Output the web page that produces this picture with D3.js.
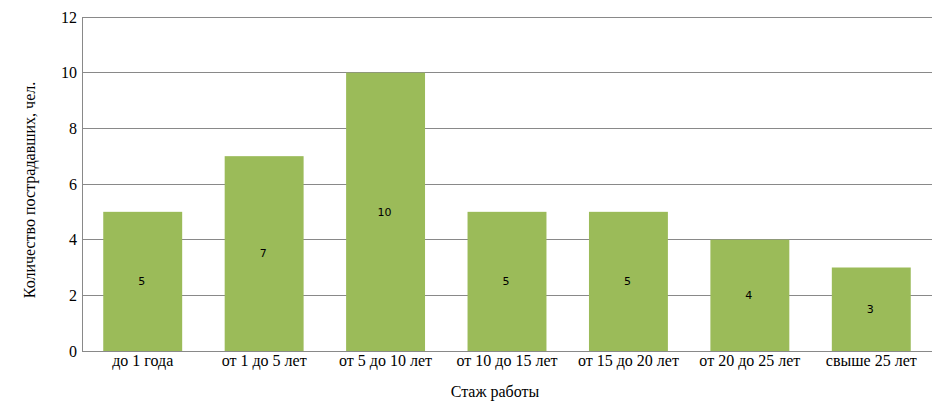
<!DOCTYPE html>
<html><head><meta charset="utf-8">
<script src="https://cdn.jsdelivr.net/npm/d3@7"></script>
<style>body{margin:0;background:#fff}</style>
</head><body>
<svg id="c" width="952" height="420"></svg>
<script>
const categories = ["до 1 года","от 1 до 5 лет","от 5 до 10 лет","от 10 до 15 лет","от 15 до 20 лет","от 20 до 25 лет","свыше 25 лет"];
const values = [5,7,10,5,5,4,3];
const yTicks = [0,2,4,6,8,10,12];

const svg = d3.select("#c");
const m = {l:82, r:932, t:17, b:351};
const x = d3.scaleBand().domain(categories).range([m.l, m.r]).paddingInner(0.35).paddingOuter(0.175);
const y = d3.scaleLinear().domain([0,12]).range([m.b, m.t]);
const serif = "'Liberation Serif','DejaVu Serif',serif";

// grid
svg.append("g").selectAll("line").data(yTicks).join("line")
  .attr("x1", m.l).attr("x2", m.r).attr("y1", d=>y(d)).attr("y2", d=>y(d))
  .attr("stroke", "#898989").attr("stroke-width", 1).attr("shape-rendering","crispEdges");

// bars
svg.append("g").selectAll("rect").data(values).join("rect")
  .attr("x", (d,i)=>x(categories[i])).attr("width", x.bandwidth())
  .attr("y", d=>y(d)).attr("height", d=>y(0)-y(d)).attr("fill", "#9bbb59");

// left axis
const ya = d3.axisLeft(y).tickValues(yTicks).tickSize(0).tickPadding(5);
const gy = svg.append("g").attr("transform", `translate(${m.l},0)`).call(ya);
gy.select(".domain").attr("stroke","#898989").attr("shape-rendering","crispEdges");
gy.selectAll("text").attr("font-family", serif).attr("font-size", 16).attr("fill","#000");

// bottom axis
const xa = d3.axisBottom(x).tickSize(0).tickPadding(4);
const gx = svg.append("g").attr("transform", `translate(0,${m.b})`).call(xa);
gx.select(".domain").remove();
gx.selectAll("text").attr("font-family", serif).attr("font-size", 16).attr("fill","#000");

// value labels
svg.append("g").selectAll("text").data(values).join("text")
  .attr("x", (d,i)=>x(categories[i]) + x.bandwidth()/2 - 1)
  .attr("y", d=>y(d/2)).attr("dy", "0.35em").attr("text-anchor","middle")
  .attr("font-family","'DejaVu Sans',sans-serif").attr("font-size", 11).attr("fill","#000")
  .text(d=>d);

// axis titles
svg.append("text").attr("x", 495).attr("y", 397).attr("text-anchor","middle")
  .attr("font-family", serif).attr("font-size", 16).text("Стаж работы");
svg.append("text").attr("transform", "translate(35,190) rotate(-90)").attr("text-anchor","middle")
  .attr("font-family", serif).attr("font-size", 16).text("Количество пострадавших, чел.");
</script>
</body></html>
